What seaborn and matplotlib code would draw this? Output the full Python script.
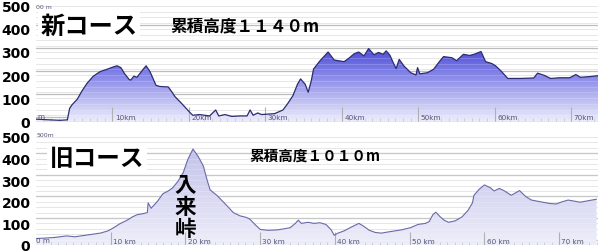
import numpy as np
import pandas as pd
import matplotlib
matplotlib.use("Agg")
import matplotlib.pyplot as plt
import seaborn as sns
from matplotlib.colors import LinearSegmentedColormap

# ---------------- data ----------------
new_km = [0, 1.8, 3.1, 4.1, 4.4, 4.7, 5.4, 6.0, 6.7, 7.5, 8.4, 9.3, 10.1, 10.6, 11.1, 11.6,
          12.2, 12.4, 12.8, 13.2, 13.9, 14.4, 14.9, 15.3, 15.7, 16.2, 17.3, 17.8, 18.2, 18.8,
          19.5, 20.1, 20.5, 21.4, 22.7, 23.5, 23.9, 24.7, 25.6, 26.7, 27.6, 28.0, 28.4, 29.0,
          29.5, 30.3, 31.2, 32.3, 32.9, 33.6, 34.2, 34.6, 35.2, 35.6, 36.0, 36.3, 37.1, 38.2,
          39.0, 40.3, 41.0, 41.6, 42.2, 42.9, 43.5, 44.2, 44.8, 45.4, 45.8, 46.3, 46.7, 47.1,
          47.5, 48.1, 49.0, 49.7, 49.9, 50.2, 51.2, 52.0, 52.8, 53.3, 54.4, 55.0, 55.9, 56.7,
          57.3, 58.2, 58.8, 59.6, 60.1, 60.8, 61.7, 63.3, 65.1, 65.6, 66.5, 67.3, 68.5, 69.8,
          70.6, 71.2, 72.4, 73.5]
new_elev = [8, 5, 3, 5, 55, 70, 95, 130, 165, 195, 215, 225, 235, 240, 232, 205,
            180, 178, 195, 190, 220, 240, 215, 185, 155, 150, 148, 125, 105, 85,
            60, 38, 25, 28, 22, 48, 22, 28, 20, 22, 22, 48, 25, 35,
            28, 30, 32, 48, 75, 110, 160, 183, 160, 125, 175, 226, 260, 300,
            265, 258, 275, 292, 300, 283, 315, 288, 298, 290, 305, 285, 255, 228,
            268, 240, 210, 200, 232, 205, 210, 225, 260, 280, 275, 262, 290, 285,
            290, 302, 258, 250, 240, 218, 185, 185, 187, 208, 198, 185, 188, 188,
            202, 190, 193, 197]

old_km = [0, 1.2, 2.5, 4.1, 5.2, 6.6, 8.6, 9.6, 10.3, 11.2, 12.2, 12.9, 13.5, 14.3, 14.9,
          15.0, 15.4, 16.2, 17.0, 17.7, 18.3, 19.0, 19.7, 20.3, 21.0, 21.7, 22.4, 22.9, 23.3,
          24.2, 24.9, 25.6, 26.4, 27.3, 28.1, 28.6, 29.3, 30.0, 31.1, 32.3, 33.2, 34.0, 34.7,
          35.1, 35.5, 36.4, 37.2, 38.0, 38.8, 39.5, 39.9, 40.4, 41.2, 42.3, 43.2, 43.8, 44.6,
          45.4, 46.2, 47.4, 48.9, 50.1, 51.1, 52.1, 52.6, 53.1, 53.5, 54.1, 54.6, 55.2, 56.1,
          57.0, 57.8, 58.4, 58.6, 59.3, 60.0, 60.8, 61.3, 62.0, 62.7, 63.6, 64.1, 64.7, 65.5,
          66.3, 67.5, 68.8, 69.6, 70.4, 71.2, 72.2, 72.8, 73.9, 75.0]
old_elev = [30, 32, 35, 42, 38, 45, 55, 65, 78, 98, 115, 130, 140, 145, 150,
            195, 170, 200, 238, 250, 265, 295, 335, 395, 444, 410, 365, 300, 255,
            230, 205, 180, 150, 135, 128, 120, 95, 72, 68, 70, 75, 80, 100,
            115, 100, 105, 100, 103, 95, 70, 45, 55, 65, 85, 100, 88, 68,
            58, 55, 62, 70, 80, 95, 100, 108, 140, 152, 130, 115, 105, 112,
            130, 160, 195, 230, 258, 278, 265, 250, 262, 250, 230, 240, 252, 225,
            208, 200, 192, 190, 200, 208, 202, 198, 205, 212]

ytick_values = [0, 100, 200, 300, 400, 500]
km_ticks = [10, 20, 30, 40, 50, 60, 70]
new_km_labels = ["10km", "20km", "30km", "40km", "50km", "60km", "70km"]
old_km_labels = ["10 km", "20 km", "30 km", "40 km", "50 km", "60 km", "70 km"]
new_title = "新コース"
new_gain = "累積高度１１４０m"
old_title = "旧コース"
old_gain = "累積高度１０１０m"
pass_label = "入\n来\n峠"

# ---------------- style ----------------
sns.set_theme(style="white")
plt.rcParams['font.family'] = ['Noto Sans CJK JP', 'DejaVu Sans']

W, H = 602, 253
fig = plt.figure(figsize=(W / 100, H / 100), dpi=100)
fig.patch.set_facecolor("white")

ax1 = fig.add_axes([36 / W, 1 - 123 / H, 562 / W, 119 / H])
ax2 = fig.add_axes([36 / W, 1 - 246 / H, 562 / W, 113 / H])


def draw_profile(ax, km, elev, xmax, ylo, yhi, cmap, grad_top, line_color, lw,
                 km_labels, major_offset, minor_step):
    df = pd.DataFrame({"km": km, "elev": elev})
    # horizontal grid
    for v in np.arange(0, yhi, minor_step):
        ax.axhline(v, color="#e2e2e2", lw=0.7, zorder=0)
    for v in np.arange(major_offset, yhi, 100):
        ax.axhline(v, color="#bdbdbd", lw=0.9, zorder=0)
    # gradient fill clipped to the profile
    poly = ax.fill_between(df["km"], df["elev"], 0, facecolor="none", edgecolor="none")
    grad = np.linspace(0, 1, 256).reshape(-1, 1)
    im = ax.imshow(grad, extent=[0, xmax, 0, grad_top], origin="lower", cmap=cmap,
                   aspect="auto", zorder=1, interpolation="bilinear")
    im.set_clip_path(poly.get_paths()[0], transform=ax.transData)
    # faint grid lines over fill
    for v in np.arange(0, yhi, minor_step):
        ax.axhline(v, color="white", lw=0.5, alpha=0.25, zorder=1.5)
    sns.lineplot(data=df, x="km", y="elev", ax=ax, color=line_color, lw=lw, zorder=3)
    # km scale ticks
    ax.vlines(np.arange(1, int(xmax) + 1), 0, 12, color="#c8c8c8", lw=0.6, zorder=2)
    ax.vlines(km_ticks, 0, 60, color="#b0b0b0", lw=0.8, zorder=2)
    for k, lab in zip(km_ticks, km_labels):
        ax.text(k + 0.3, 4, lab, fontsize=5.2, color="#555577", family="DejaVu Sans",
                va="bottom", ha="left", zorder=4)
    ax.set_xlim(0, xmax)
    ax.set_ylim(ylo, yhi)
    ax.set_yticks(ytick_values)
    ax.set_yticklabels([str(v) for v in ytick_values], fontsize=10, fontweight="bold",
                       family="DejaVu Sans", color="black")
    ax.tick_params(axis="y", length=0, pad=4)
    ax.set_xticks([])
    ax.set_xlabel("")
    ax.set_ylabel("")
    for s in ax.spines.values():
        s.set_visible(False)


cmap_new = LinearSegmentedColormap.from_list("new", ["#ececfc", "#9a9aec", "#4848d8"])
cmap_old = LinearSegmentedColormap.from_list("old", ["#eeeefa", "#d8d8f2", "#c2c2ea"])

draw_profile(ax1, new_km, new_elev, 73.5, -4.3, 513, cmap_new, 320, "#2c2c70", 0.9,
             new_km_labels, 17, 25)
draw_profile(ax2, old_km, old_elev, 75.2, 0, 523, cmap_old, 450, "#6a6aa8", 0.8,
             old_km_labels, 25, 25)

# small corner labels
ax1.text(0.2, 8, "m", fontsize=5.2, color="#555577", family="DejaVu Sans", va="bottom", zorder=4)
ax1.text(0.0, 508, "00 m", fontsize=4.5, color="#555577", family="DejaVu Sans", va="top", zorder=4)
ax2.text(0.0, 8, "0 m", fontsize=5.2, color="#555577", family="DejaVu Sans", va="bottom", zorder=4)
ax2.text(0.1, 521, "500m", fontsize=4.5, color="#555577", family="DejaVu Sans", va="top", zorder=4)

# titles
ax1.text(0.008, 0.81, new_title, transform=ax1.transAxes, fontsize=17.5, fontweight="bold",
         color="black", va="center", ha="left", zorder=5,
         bbox=dict(facecolor="white", edgecolor="none", pad=2))
ax1.text(0.239, 0.81, new_gain, transform=ax1.transAxes, fontsize=12, fontweight="bold",
         color="black", va="center", ha="left", zorder=5)
ax2.text(0.025, 0.77, old_title, transform=ax2.transAxes, fontsize=17, fontweight="bold",
         color="black", va="center", ha="left", zorder=5,
         bbox=dict(facecolor="white", edgecolor="none", pad=2))
ax2.text(0.38, 0.8, old_gain, transform=ax2.transAxes, fontsize=10.5, fontweight="bold",
         color="black", va="center", ha="left", zorder=5)
ax2.text(20.0, 180, pass_label, fontsize=15.5, fontweight="bold", color="black",
         va="center", ha="center", linespacing=1.08, zorder=5)

fig.savefig("out.png", dpi=100, facecolor="white")
